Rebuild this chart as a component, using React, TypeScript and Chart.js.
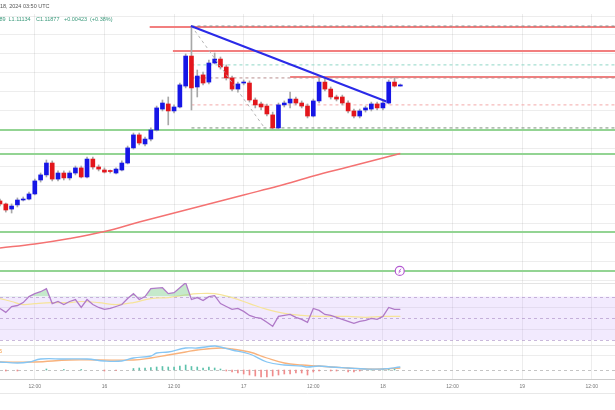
import React, { useEffect, useRef } from 'react';
import { Chart, registerables } from 'chart.js';
Chart.register(...registerables);

// ---- time axis (hours since 15th 00:00) ----
const tickHours = [12, 24, 36, 48, 60, 72, 84, 96, 108];
const tickLabels = ['12:00', '16', '12:00', '17', '12:00', '18', '12:00', '19', '12:00'];

// ---- hourly candles ----
const hours = [6, 7, 8, 9, 10, 11, 12, 13, 14, 15, 16, 17, 18, 19, 20, 21, 22, 23, 24, 25, 26, 27, 28, 29, 30, 31, 32, 33, 34, 35, 36, 37, 38, 39, 40, 41, 42, 43, 44, 45, 46, 47, 48, 49, 50, 51, 52, 53, 54, 55, 56, 57, 58, 59, 60, 61, 62, 63, 64, 65, 66, 67, 68, 69, 70, 71, 72, 73, 74, 75];
const opens = [1.11020, 1.11004, 1.10977, 1.10999, 1.11025, 1.11030, 1.11057, 1.11131, 1.11158, 1.11221, 1.11136, 1.11168, 1.11142, 1.11168, 1.11195, 1.11147, 1.11242, 1.11200, 1.11184, 1.11177, 1.11168, 1.11184, 1.11221, 1.11301, 1.11370, 1.11322, 1.11348, 1.11396, 1.11507, 1.11534, 1.11497, 1.11518, 1.11629, 1.11788, 1.11624, 1.11688, 1.11650, 1.11751, 1.11772, 1.11730, 1.11672, 1.11613, 1.11645, 1.11645, 1.11555, 1.11534, 1.11523, 1.11476, 1.11407, 1.11529, 1.11539, 1.11560, 1.11539, 1.11523, 1.11470, 1.11550, 1.11650, 1.11613, 1.11571, 1.11571, 1.11539, 1.11497, 1.11470, 1.11502, 1.11507, 1.11534, 1.11513, 1.11539, 1.11650, 1.11629];
const highs = [1.11030, 1.11009, 1.11004, 1.11036, 1.11041, 1.11067, 1.11136, 1.11168, 1.11237, 1.11232, 1.11179, 1.11179, 1.11179, 1.11205, 1.11205, 1.11253, 1.11253, 1.11211, 1.11195, 1.11184, 1.11195, 1.11232, 1.11311, 1.11380, 1.11380, 1.11359, 1.11407, 1.11523, 1.11555, 1.11571, 1.11529, 1.11645, 1.11799, 1.11947, 1.11714, 1.11703, 1.11767, 1.11804, 1.11783, 1.11741, 1.11682, 1.11650, 1.11661, 1.11656, 1.11566, 1.11544, 1.11534, 1.11491, 1.11539, 1.11550, 1.11597, 1.11571, 1.11550, 1.11534, 1.11560, 1.11672, 1.11672, 1.11624, 1.11581, 1.11581, 1.11550, 1.11507, 1.11507, 1.11523, 1.11544, 1.11544, 1.11550, 1.11661, 1.11672, 1.11640];
const lows = [1.10993, 1.10961, 1.10956, 1.10988, 1.11020, 1.11025, 1.11052, 1.11120, 1.11147, 1.11126, 1.11126, 1.11131, 1.11131, 1.11158, 1.11142, 1.11142, 1.11189, 1.11179, 1.11168, 1.11168, 1.11163, 1.11179, 1.11216, 1.11295, 1.11317, 1.11311, 1.11338, 1.11391, 1.11497, 1.11423, 1.11486, 1.11513, 1.11619, 1.11502, 1.11571, 1.11635, 1.11640, 1.11746, 1.11719, 1.11661, 1.11603, 1.11597, 1.11635, 1.11544, 1.11513, 1.11502, 1.11470, 1.11401, 1.11401, 1.11518, 1.11513, 1.11529, 1.11513, 1.11460, 1.11465, 1.11539, 1.11603, 1.11560, 1.11550, 1.11529, 1.11486, 1.11460, 1.11460, 1.11491, 1.11497, 1.11502, 1.11502, 1.11534, 1.11624, 1.11629];
const closes = [1.11004, 1.10972, 1.10993, 1.11025, 1.11030, 1.11057, 1.11126, 1.11158, 1.11221, 1.11136, 1.11168, 1.11142, 1.11168, 1.11195, 1.11147, 1.11242, 1.11200, 1.11189, 1.11173, 1.11176, 1.11189, 1.11221, 1.11301, 1.11370, 1.11327, 1.11348, 1.11396, 1.11513, 1.11539, 1.11497, 1.11518, 1.11635, 1.11788, 1.11619, 1.11682, 1.11645, 1.11751, 1.11772, 1.11730, 1.11672, 1.11613, 1.11640, 1.11650, 1.11555, 1.11529, 1.11518, 1.11481, 1.11407, 1.11529, 1.11539, 1.11560, 1.11539, 1.11523, 1.11470, 1.11550, 1.11650, 1.11613, 1.11571, 1.11560, 1.11539, 1.11497, 1.11470, 1.11497, 1.11513, 1.11534, 1.11513, 1.11539, 1.11650, 1.11629, 1.11635];

// ---- moving average on price ----
const emaHours = [6, 12, 18, 24, 30, 36, 42, 48, 54, 60, 66, 72, 75];
const emaValues = [1.10771, 1.10792, 1.10821, 1.10858, 1.10908, 1.10956, 1.11004, 1.11052, 1.11099, 1.11152, 1.11200, 1.11248, 1.11271];

// ---- drawn levels ----
const priceGrid = [1.106, 1.107, 1.108, 1.109, 1.110, 1.111, 1.112, 1.113, 1.114, 1.115, 1.116, 1.117, 1.118, 1.119, 1.120];
const greenLevels = [1.11396, 1.11269, 1.10855, 1.10649];
const redLevels = [1.11942, 1.11815, 1.11677];
const redStartHours = [31.8, 35.8, 56];
const fibLevels = [1.11947, 1.11741, 1.11672, 1.11529, 1.11407];
const fibColors = ['#8a8a8a', '#8fd6c6', '#b98f8f', '#f3a9a9', '#7a8f7a'];
const fibStartHour = 39;
const trendHours = [38.9, 72.6];
const trendPrices = [1.11947, 1.11547];
const diagHours = [39, 51.6];
const diagPrices = [1.11947, 1.11407];
const markerHour = 74.9;
const markerPrice = 1.10649;

// ---- RSI ----
const rsiValues = [59.1, 55.5, 60.9, 61.8, 64.5, 70.0, 72.7, 74.5, 77.3, 63.6, 65.5, 62.7, 65.5, 67.3, 60.0, 67.3, 62.7, 60.0, 58.2, 59.1, 60.9, 62.7, 68.2, 72.7, 67.3, 70.0, 77.3, 77.7, 78.2, 72.7, 73.6, 78.2, 82.7, 67.3, 69.1, 66.4, 70.0, 70.9, 63.6, 60.9, 58.2, 59.1, 56.4, 52.7, 50.9, 50.0, 46.4, 42.7, 51.8, 52.7, 53.6, 50.9, 49.1, 46.4, 59.1, 57.3, 53.6, 52.7, 50.9, 49.1, 47.3, 45.5, 47.3, 48.2, 50.0, 49.1, 51.8, 60.0, 58.2, 58.2];
const rsiMaHours = [6, 8, 10, 12, 15, 18, 20, 23, 26, 29, 32, 35, 38, 40, 43, 46, 49, 52, 55, 58, 61, 66, 69, 72, 75];
const rsiMaValues = [68.2, 65.5, 62.7, 63.6, 64.5, 64.5, 65.5, 64.5, 62.7, 64.5, 68.2, 69.1, 71.5, 72.7, 72.7, 69.1, 63.6, 58.2, 54.5, 52.7, 51.8, 51.8, 50.9, 51.8, 51.8];
const rsiGrid = [40, 60];

// ---- MACD ----
const macdHours = [6, 9, 11, 13, 17, 21, 24, 27, 29, 32, 33, 35, 38, 40, 43, 44, 46, 49, 52, 55, 58, 59, 61, 63, 66, 69, 72, 75];
const macdValues = [0.00016, 0.00014, 0.00016, 0.00022, 0.00022, 0.00022, 0.00018, 0.00018, 0.00024, 0.00028, 0.00034, 0.00036, 0.00044, 0.00044, 0.00048, 0.00046, 0.0004, 0.00032, 0.00016, 0.0001, 0.00008, 0.00006, 0.00008, 0.00006, 0.00004, 0.00002, 0.00002, 0.00006];
const signalHours = [6, 12, 18, 23, 29, 32, 35, 38, 40, 44, 46, 49, 52, 55, 58, 61, 63, 66, 69, 72, 75];
const signalValues = [0.00016, 0.00016, 0.0002, 0.0002, 0.0002, 0.00024, 0.0003, 0.00036, 0.0004, 0.00044, 0.00042, 0.00036, 0.00024, 0.00014, 0.0001, 0.00008, 0.00006, 0.00004, 0.00002, 0.00002, 0.00004];
const histHours = [7, 9, 14, 17, 20, 24, 26, 29, 30, 31, 32, 33, 34, 35, 36, 37, 38, 39, 40, 41, 42, 43, 44, 45, 46, 47, 48, 49, 50, 51, 52, 53, 54, 55, 56, 57, 58, 59, 60, 61, 63, 64, 66, 67, 68, 70, 72, 73, 74];
const histValues = [-0.00002, -0.00002, 0.00002, 0.00001, 0.00001, -0.00002, -0.00001, 0.00003, 0.00004, 0.00004, 0.00005, 0.00006, 0.00007, 0.00006, 0.00006, 0.00008, 0.0001, 0.00007, 0.00006, 0.00004, 0.00006, 0.00004, 0.00002, -0.00002, -0.00004, -0.00006, -0.00008, -0.0001, -0.00012, -0.00014, -0.00014, -0.00012, -0.0001, -0.00008, -0.00008, -0.00006, -0.00006, -0.0001, -0.00004, -0.00002, -0.00002, -0.00002, -0.00004, -0.00004, -0.00002, 0.00001, 0.00002, 0.00003, 0.00002];
const macdGrid = [0.0003];

const headerTitle = '18, 2024 03:50 UTC';
const ohlcParts = ['589', 'L1.11134', 'C1.11877', '+0.00423', '(+0.38%)'];

const FONT = '"Liberation Sans", Arial, sans-serif';

export default function App() {
  const ref = useRef<HTMLCanvasElement>(null);

  useEffect(() => {
    const canvas = ref.current;
    if (!canvas) return;
    const UP = '#1616e6';
    const DOWN = '#e3161c';
    const END = 112;

    const datasets: any[] = [];
    const line = (data: any[], color: string, width: number, order: number, extra: any = {}) => ({
      type: 'line', data, borderColor: color, borderWidth: width, pointRadius: 0, tension: 0,
      yAxisID: 'y', order, fill: false, ...extra,
    });

    greenLevels.forEach((p) => datasets.push(line([{ x: 6, y: p }, { x: END, y: p }], '#93d493', 2, 20)));
    redLevels.forEach((p, i) => datasets.push(line([{ x: redStartHours[i], y: p }, { x: END, y: p }], '#f27f7f', 2, 20)));
    fibLevels.forEach((p, i) => datasets.push(line([{ x: fibStartHour, y: p }, { x: END, y: p }], fibColors[i], 1, 19, { borderDash: [3, 3] })));

    datasets.push(line(emaHours.map((h, i) => ({ x: h, y: emaValues[i] })), '#f47272', 1.5, 18, { tension: 0.4 }));

    datasets.push({
      type: 'bar', yAxisID: 'y', order: 12, grouped: false, barThickness: 1,
      backgroundColor: '#a8a8a8',
      data: hours.map((h, i) => ({ x: h, y: [lows[i], highs[i]] })),
    });
    datasets.push({
      type: 'bar', yAxisID: 'y', order: 11, grouped: false, barThickness: 4, minBarLength: 1,
      backgroundColor: hours.map((_, i) => (closes[i] >= opens[i] ? UP : DOWN)),
      data: hours.map((h, i) => ({ x: h, y: [Math.min(opens[i], closes[i]), Math.max(opens[i], closes[i])] })),
    });

    datasets.push(line(diagHours.map((h, i) => ({ x: h, y: diagPrices[i] })), '#b5b5b5', 1, 2, { borderDash: [3, 3] }));
    datasets.push(line(trendHours.map((h, i) => ({ x: h, y: trendPrices[i] })), '#2a2ae8', 2, 1));

    datasets.push({
      type: 'line', showLine: false, yAxisID: 'y', order: 0,
      data: [{ x: markerHour, y: markerPrice }],
      pointRadius: 4.5, pointBorderWidth: 1.2, pointBorderColor: '#b45ad2', pointBackgroundColor: '#ffffff',
    });

    datasets.push({
      type: 'line', yAxisID: 'yR', order: 3,
      data: hours.map((h, i) => ({ x: h, y: rsiValues[i] })),
      borderColor: '#b07ac8', borderWidth: 1.3, pointRadius: 0, tension: 0,
      fill: { target: { value: 70 }, above: 'rgba(150,215,160,0.55)', below: 'rgba(0,0,0,0)' },
    });
    datasets.push({
      type: 'line', yAxisID: 'yR', order: 4,
      data: rsiMaHours.map((h, i) => ({ x: h, y: rsiMaValues[i] })),
      borderColor: '#f6e49a', borderWidth: 1.2, pointRadius: 0, tension: 0.4, fill: false,
    });

    datasets.push({
      type: 'bar', yAxisID: 'yM', order: 6, grouped: false, barThickness: 1,
      data: histHours.map((h, i) => ({ x: h, y: histValues[i] })),
      backgroundColor: histValues.map((v) => (v >= 0 ? '#5fc2ac' : '#f08c8c')),
    });
    datasets.push({
      type: 'line', yAxisID: 'yM', order: 5,
      data: signalHours.map((h, i) => ({ x: h, y: signalValues[i] })),
      borderColor: '#f8b27c', borderWidth: 1.3, pointRadius: 0, tension: 0.4, fill: false,
    });
    datasets.push({
      type: 'line', yAxisID: 'yM', order: 4,
      data: macdHours.map((h, i) => ({ x: h, y: macdValues[i] })),
      borderColor: '#86c6f4', borderWidth: 1.3, pointRadius: 0, tension: 0.4, fill: false,
    });

    const gridColor = 'rgba(0,0,0,0.07)';
    const yCommon = {
      type: 'linear', position: 'right', stack: 'panes',
      ticks: { display: false },
      grid: { color: gridColor, drawTicks: false },
      border: { display: false },
      afterFit: (s: any) => { s.width = 0; s.paddingTop = 0; s.paddingBottom = 0; },
    };

    const panesPlugin = {
      id: 'panes',
      beforeDatasetsDraw(chart: any) {
        const { ctx, chartArea } = chart;
        const yR = chart.scales.yR;
        const yM = chart.scales.yM;
        ctx.save();
        const t70 = yR.getPixelForValue(70);
        const t30 = yR.getPixelForValue(30);
        ctx.fillStyle = 'rgba(190,150,250,0.2)';
        ctx.fillRect(chartArea.left, t70, chartArea.right - chartArea.left, t30 - t70);
        ctx.setLineDash([3, 3]);
        ctx.lineWidth = 1;
        ctx.strokeStyle = 'rgba(160,130,190,0.55)';
        [70, 50, 30].forEach((v) => {
          const y = Math.round(yR.getPixelForValue(v)) + 0.5;
          ctx.beginPath(); ctx.moveTo(chartArea.left, y); ctx.lineTo(chartArea.right, y); ctx.stroke();
        });
        ctx.strokeStyle = '#c4c4c4';
        const z = Math.round(yM.getPixelForValue(0)) + 0.5;
        ctx.beginPath(); ctx.moveTo(chartArea.left, z); ctx.lineTo(chartArea.right, z); ctx.stroke();
        ctx.setLineDash([]);
        ctx.strokeStyle = '#e4e4e4';
        [yR.top, yM.top].forEach((yy: number) => {
          const y = Math.round(yy) + 0.5;
          ctx.beginPath(); ctx.moveTo(chartArea.left, y); ctx.lineTo(chartArea.right, y); ctx.stroke();
        });
        ctx.restore();
      },
      afterDraw(chart: any) {
        const { ctx } = chart;
        ctx.save();
        ctx.textBaseline = 'middle';
        ctx.textAlign = 'left';
        ctx.font = `5.5px ${FONT}`;
        ctx.fillStyle = '#555';
        ctx.fillText(headerTitle, 0, 6);
        ctx.fillStyle = '#3c9a7c';
        const xs = [-3.5, 8.5, 36, 64, 90];
        ohlcParts.forEach((p, i) => ctx.fillText(p, xs[i], 19));
        ctx.fillStyle = '#f59a42';
        ctx.fillText('5', -1, 351);
        ctx.strokeStyle = '#e8e8e8';
        ctx.lineWidth = 1;
        ctx.beginPath(); ctx.moveTo(0, 393.5); ctx.lineTo(615, 393.5); ctx.stroke();
        const xp = chart.scales.x.getPixelForValue(markerHour);
        const yp = chart.scales.y.getPixelForValue(markerPrice);
        ctx.strokeStyle = '#b45ad2';
        ctx.lineWidth = 0.9;
        ctx.beginPath();
        ctx.moveTo(xp + 1.3, yp - 2.2); ctx.lineTo(xp - 0.8, yp + 0.3); ctx.lineTo(xp + 0.8, yp + 0.3); ctx.lineTo(xp - 1.3, yp + 2.2);
        ctx.stroke();
        ctx.restore();
      },
    };

    const chart = new Chart(canvas, {
      data: { datasets },
      options: {
        responsive: false,
        animation: false,
        events: [],
        layout: { padding: { top: 14, left: 0, right: 0, bottom: 0 }, autoPadding: false },
        plugins: { legend: { display: false }, tooltip: { enabled: false } },
        scales: {
          x: {
            type: 'linear', position: 'bottom', min: 6, max: END, offset: false,
            afterBuildTicks: (s: any) => { s.ticks = tickHours.map((v) => ({ value: v })); },
            afterFit: (s: any) => { s.height = 31; s.paddingLeft = 0; s.paddingRight = 0; },
            ticks: {
              callback: (_v: any, i: number) => tickLabels[i],
              font: { size: 5, family: FONT }, color: '#777', padding: 5, maxRotation: 0, autoSkip: false,
            },
            grid: { color: gridColor, drawTicks: false, offset: false },
            border: { display: true, color: '#cccccc' },
          },
          y: {
            ...yCommon, stackWeight: 269, min: 1.105851, max: 1.120108,
            afterBuildTicks: (s: any) => { s.ticks = priceGrid.map((v) => ({ value: v })); },
          },
          yR: {
            ...yCommon, stackWeight: 62, min: 25.5, max: 82.5,
            afterBuildTicks: (s: any) => { s.ticks = rsiGrid.map((v) => ({ value: v })); },
          },
          yM: {
            ...yCommon, stackWeight: 34, min: -0.00018, max: 0.0005,
            afterBuildTicks: (s: any) => { s.ticks = macdGrid.map((v) => ({ value: v })); },
          },
        } as any,
      },
      plugins: [panesPlugin],
    } as any);

    return () => chart.destroy();
  }, []);

  return (
    <div style={{ position: 'absolute', left: 0, top: 0, width: 615, height: 410, background: '#fff' }}>
      <canvas ref={ref} width={615} height={410} style={{ display: 'block' }} />
    </div>
  );
}
